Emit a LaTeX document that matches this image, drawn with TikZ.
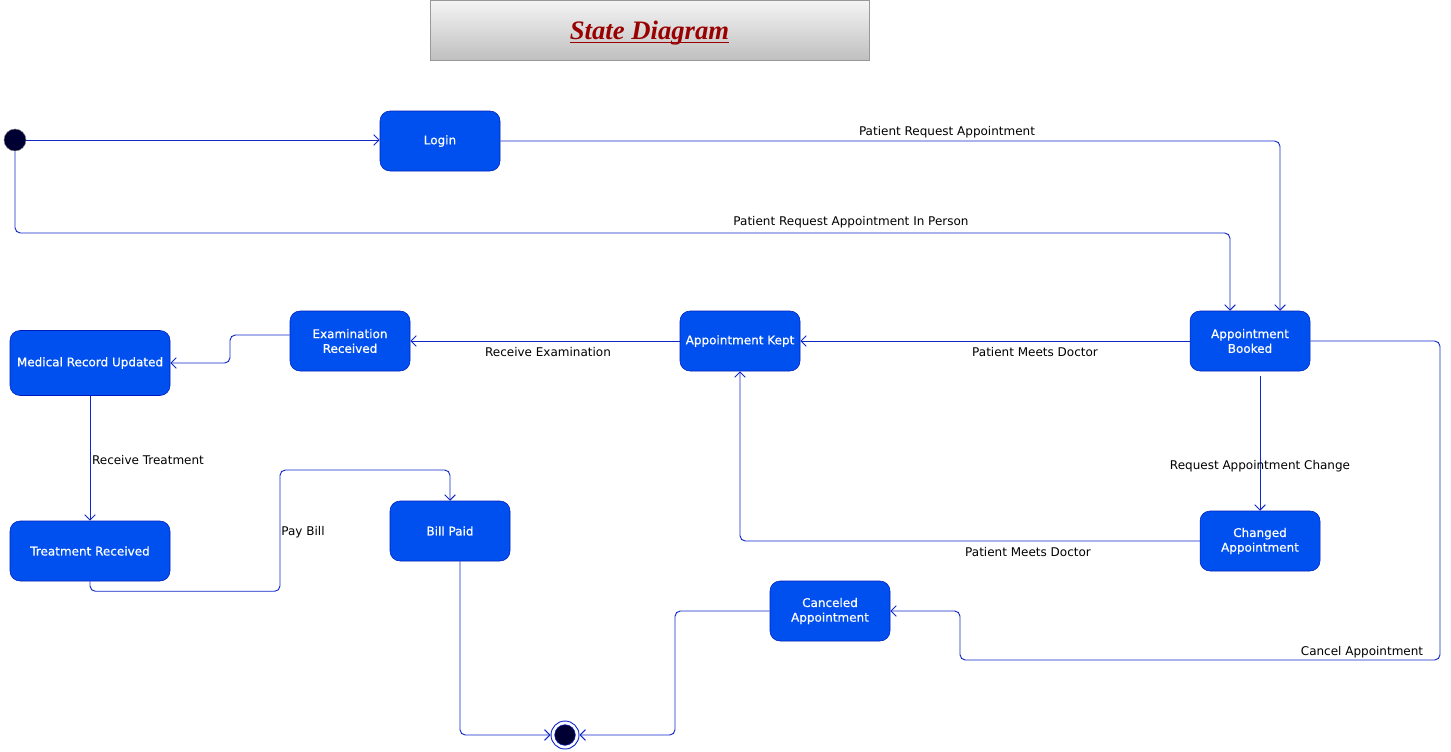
\documentclass[tikz,border=0pt]{standalone}
\usepackage{fontspec}
\setmainfont{DejaVu Sans}
\newfontfamily\statefont[FakeBold=0.5]{DejaVu Sans}
\newfontfamily\titlefont{Liberation Serif}
\usetikzlibrary{arrows.meta,calc}

\definecolor{statefill}{HTML}{0050EF}
\definecolor{stateline}{HTML}{001DBC}
\definecolor{wire}{HTML}{1028C8}
\definecolor{dot}{HTML}{000033}
\definecolor{titlered}{HTML}{990000}

\newcommand\titleline[1]{\setbox0=\hbox{#1}\rlap{\copy0}\rule[-2.4pt]{\wd0}{0.9pt}}

\begin{document}
\begin{tikzpicture}[x=0.75pt,y=-0.75pt]
\tikzstyle{every node}=[font=\fontsize{9}{11}\selectfont]
\tikzstyle{state}=[draw=stateline, fill=statefill, rounded corners=7.5pt, text=white,
	align=center, minimum width=90pt, minimum height=45pt, inner sep=2pt,
	font=\statefont\fontsize{9}{11}\selectfont]
\tikzstyle{trans}=[draw=wire, line width=0.7pt, -{Straight Barb[length=4pt,width=8pt]},
	rounded corners=4pt]
\tikzstyle{lbl}=[text=black, inner sep=1pt]
\useasboundingbox (0,0) rectangle (1451,751);

% title
\node[draw=gray!80, top color=gray!8, bottom color=gray!50, minimum width=329pt,
	minimum height=45pt] (title) at (649.5,30) {};
\node[font=\titlefont\bfseries\itshape\fontsize{20}{22}\selectfont, text=titlered,
	anchor=base] (titletext) at (649.5,39.5) {\titleline{State Diagram}};

% states
\node[circle, fill=dot, draw=gray, minimum size=16.5pt, inner sep=0pt] (start) at (15,140) {};
\node[state] (login)    at (440,141)  {Login};
\node[state] (booked)   at (1250,341) {Appointment\\Booked};
\node[state] (kept)     at (740,341)  {Appointment Kept};
\node[state] (exam)     at (350,341)  {Examination\\Received};
\node[state, minimum width=120pt, minimum height=48.75pt] (medical) at (90,363) {Medical Record Updated};
\node[state, minimum width=120pt] (treat) at (90,551) {Treatment Received};
\node[state] (bill)     at (450,531)  {Bill Paid};
\node[state] (changed)  at (1260,541) {Changed\\Appointment};
\node[state] (canceled) at (830,611)  {Canceled\\Appointment};
\node[circle, draw=wire, line width=0.7pt, minimum size=21pt, inner sep=0pt] (stop) at (565,735) {};
\node[circle, fill=dot, draw=wire, minimum size=15.5pt, inner sep=0pt] (stopcore) at (stop) {};

% bends
\coordinate (inperson) at (1230,233);
\coordinate (exambend) at (230,363);
\coordinate (paybend)  at (280,470);
\coordinate (cancelA)  at (1440,660);
\coordinate (cancelB)  at (960,611);
\coordinate (endbend)  at (675,735);

% transitions
\draw[trans] (start) -- (start -| login.west);
\draw[trans] (login) -| ($(booked.north)+(30,0)$);
\draw[trans] (start) |- (inperson) -- (inperson |- booked.north);
\draw[trans] (booked) -- (kept);
\draw[trans] (kept) -- (exam);
\draw[trans] ($(exam.west)+(0,-6)$) -| (exambend) -- (medical);
\draw[trans] (medical) -- (treat);
\draw[trans] (treat.south) -- ++(0,10) -| (paybend) -| (bill);
\draw[trans] ($(bill.south)+(10,0)$) |- (stop);
\draw[trans] ($(booked.south)+(10,5)$) -- (changed);
\draw[trans] (changed) -| (kept);
\draw[trans] (booked) -| (cancelA) -| (cancelB) -- (canceled);
\draw[trans] (canceled) -| (endbend) -- (stop);

% labels
\node[lbl] (l1) at (947,132.5)  {Patient Request Appointment};
\node[lbl] (l2) at (851,222.5)  {Patient Request Appointment In Person};
\node[lbl] (l3) at (1035,352.5) {Patient Meets Doctor};
\node[lbl] (l4) at (548,352.5)  {Receive Examination};
\node[lbl] (l5) at (148,460.5)  {Receive Treatment};
\node[lbl] (l6) at (303,532.5)  {Pay Bill};
\node[lbl] (l7) at (1260,466.5) {Request Appointment Change};
\node[lbl] (l8) at (1028,552.5) {Patient Meets Doctor};
\node[lbl] (l9) at (1362,652.5) {Cancel Appointment};
\end{tikzpicture}
\end{document}
